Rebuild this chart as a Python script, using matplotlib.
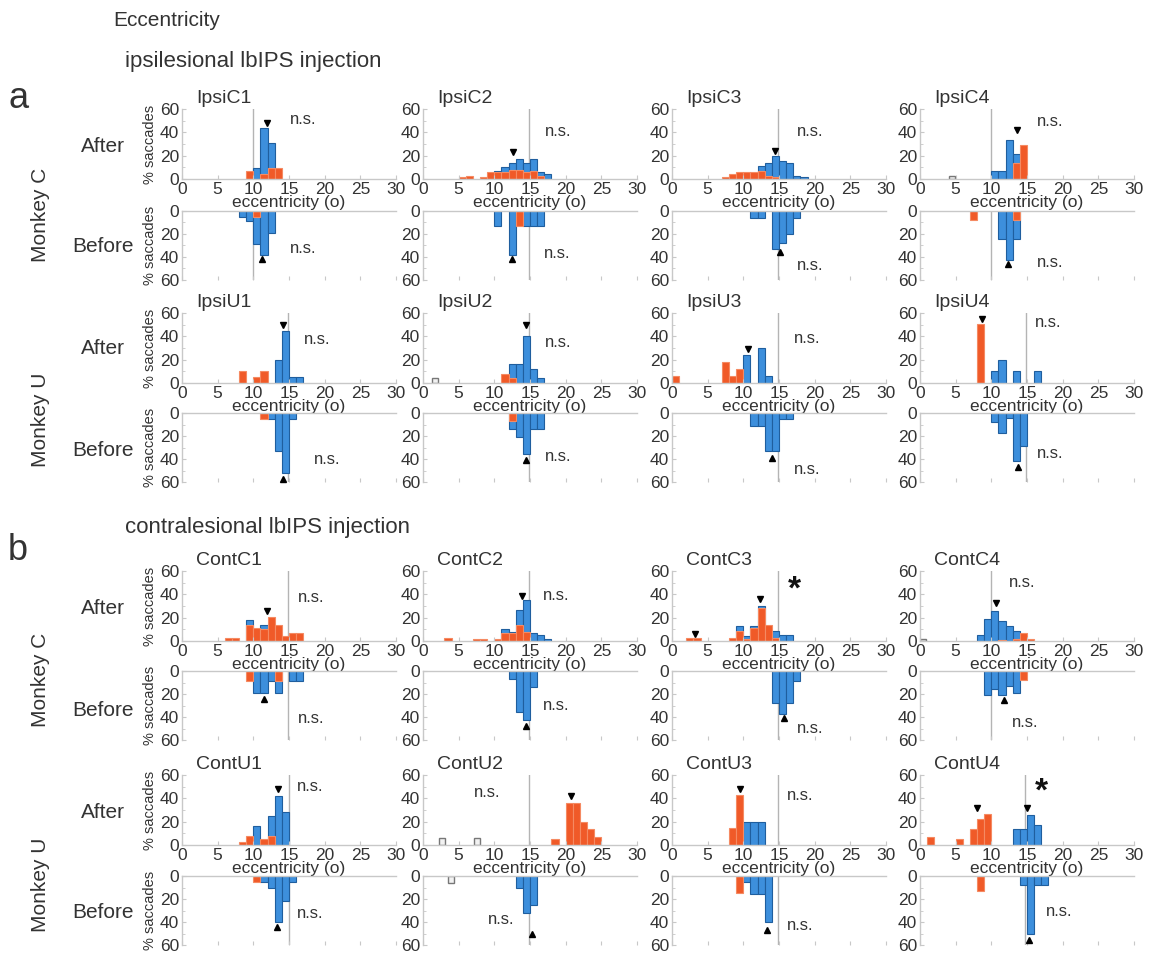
"""
Eccentricity histograms, after vs before lbIPS injection
"""

import matplotlib
matplotlib.use('Agg')
import matplotlib.pyplot as plt

plt.rcParams['font.family'] = ['Liberation Sans', 'DejaVu Sans']

# ---- data: % saccades per 1 deg bin (bin left edge -> value) ----
# b = blue, o = orange, aft = after (top axes), bef = before (bottom axes)
ipsiC1_aft_b = {10: 9, 11: 44, 12: 31}
ipsiC1_aft_o = {9: 7, 11: 4, 12: 9, 13: 9}
ipsiC1_bef_b = {8: 5, 9: 9, 10: 29, 11: 38, 12: 19}
ipsiC1_bef_o = {10: 5}

ipsiC2_aft_b = {10: 7, 11: 10, 12: 14, 13: 17, 14: 14, 15: 17, 16: 6, 17: 4}
ipsiC2_aft_o = {5: 1.5, 6: 3, 8: 2, 9: 6, 10: 6, 11: 6, 12: 8, 13: 8, 14: 6, 15: 7, 16: 3}
ipsiC2_bef_b = {10: 13, 12: 38, 14: 13, 15: 13, 16: 13}
ipsiC2_bef_o = {13: 13}

ipsiC3_aft_b = {12: 11, 13: 14, 14: 20, 15: 15, 16: 14, 17: 3, 18: 1.5}
ipsiC3_aft_o = {7: 1.5, 8: 4, 9: 6, 10: 6, 11: 6, 12: 7, 13: 3, 14: 2}
ipsiC3_bef_b = {11: 6, 12: 6, 14: 33, 15: 28, 16: 20, 17: 6}
ipsiC3_bef_o = {}

ipsiC4_aft_b = {10: 7, 11: 7, 12: 33, 13: 21}
ipsiC4_aft_o = {13: 14, 14: 29}
ipsiC4_bef_b = {11: 24, 12: 43, 13: 24}
ipsiC4_bef_o = {7: 8, 13: 8}

ipsiU1_aft_b = {13: 20, 14: 45, 15: 5, 16: 5}
ipsiU1_aft_o = {8: 10, 10: 5, 11: 10}
ipsiU1_bef_b = {12: 5, 13: 33, 14: 52, 15: 5}
ipsiU1_bef_o = {11: 5}

ipsiU2_aft_b = {12: 16, 13: 16, 14: 40, 15: 12, 16: 4}
ipsiU2_aft_o = {11: 8, 12: 4}
ipsiU2_bef_b = {12: 14, 13: 21, 14: 36, 15: 14, 16: 14}
ipsiU2_bef_o = {12: 7}

ipsiU3_aft_b = {10: 24, 12: 30, 13: 6}
ipsiU3_aft_o = {0: 6, 7: 18, 8: 6, 9: 12}
ipsiU3_bef_b = {11: 11, 12: 11, 13: 33, 14: 33, 15: 5, 16: 5}
ipsiU3_bef_o = {}

ipsiU4_aft_b = {10: 10, 11: 20, 13: 10, 16: 10}
ipsiU4_aft_o = {8: 51}
ipsiU4_bef_b = {10: 8, 11: 17, 12: 4, 13: 42, 14: 29}
ipsiU4_bef_o = {}

contC1_aft_b = {9: 18, 11: 14}
contC1_aft_o = {6: 3, 7: 3, 9: 14, 10: 11, 11: 10, 12: 21, 13: 14, 14: 4, 15: 7, 16: 7}
contC1_bef_b = {10: 19, 11: 19, 12: 9, 13: 19, 15: 9, 16: 9}
contC1_bef_o = {9: 9, 13: 9}

contC2_aft_b = {11: 10, 12: 8, 13: 27, 14: 35, 15: 7, 16: 5, 17: 2}
contC2_aft_o = {3: 3, 7: 1.5, 8: 1.5, 10: 2, 11: 7, 12: 7, 13: 14, 14: 8}
contC2_bef_b = {12: 7, 13: 36, 14: 43, 15: 14}
contC2_bef_o = {}

contC3_aft_b = {9: 13, 10: 4, 11: 13, 12: 30, 14: 9, 15: 5, 16: 5}
contC3_aft_o = {2: 3, 3: 3, 8: 3, 9: 9, 10: 2, 11: 11, 12: 28, 13: 14, 14: 3}
contC3_bef_b = {14: 28, 15: 37, 16: 28, 17: 9}
contC3_bef_o = {}

contC4_aft_b = {8: 5, 9: 19, 10: 26, 11: 17, 12: 13, 13: 9}
contC4_aft_o = {11: 1, 13: 2, 14: 7, 15: 2}
contC4_bef_b = {9: 21, 10: 16, 11: 21, 12: 13, 13: 19}
contC4_bef_o = {14: 8}

contU1_aft_b = {10: 16, 12: 25, 13: 42, 14: 28}
contU1_aft_o = {8: 3, 9: 8, 11: 5, 12: 8}
contU1_bef_b = {11: 5, 12: 10, 13: 40, 14: 22, 15: 5}
contU1_bef_o = {10: 5}

contU2_aft_b = {}
contU2_aft_o = {18: 5, 20: 36, 21: 36, 22: 20, 23: 14, 24: 7}
contU2_bef_b = {13: 10, 14: 32, 15: 25}
contU2_bef_o = {}

contU3_aft_b = {10: 20, 11: 20, 12: 20}
contU3_aft_o = {8: 15, 9: 43}
contU3_bef_b = {10: 5, 11: 16, 12: 16, 13: 40}
contU3_bef_o = {9: 15}

contU4_aft_b = {13: 14, 14: 14, 15: 26, 16: 17}
contU4_aft_o = {1: 7, 5: 5, 7: 14, 8: 22, 9: 27}
contU4_bef_b = {14: 8, 15: 50, 16: 8, 17: 8}
contU4_bef_o = {8: 13}

# hollow (grey outline) bins: (left edge, value)
hollow_aft = {'IpsiC4': [(4, 3)], 'IpsiU2': [(1.3, 4)], 'ContC4': [(0, 2)],
              'ContU2': [(2.2, 6), (7.2, 6)]}
hollow_bef = {'ContU2': [(3.5, 6)]}

# reference line, median markers (x, y)
vlines = [10, 14.8, 14.9, 10, 14.9, 14.9, 14.9, 14.8,
          14.8, 14.9, 14.9, 10, 15, 14.9, 14.9, 14.7]
tri_aft = [[(11.9, 48)], [(12.6, 23)], [(14.4, 24)], [(13.6, 42)],
           [(14.2, 50)], [(14.4, 50)], [(10.6, 29)], [(8.7, 55)],
           [(11.9, 26)], [(13.9, 39)], [(3.2, 6), (12.3, 36)], [(10.6, 33)],
           [(13.4, 48)], [(20.8, 42)], [(9.5, 48)], [(8.0, 32), (15.0, 32)]]
tri_bef = [(11.2, 42), (12.5, 42), (15.1, 36), (12.3, 46),
           (14.1, 57), (14.4, 41), (14.0, 39), (13.8, 47),
           (11.5, 24), (14.4, 48), (15.7, 41), (11.8, 25),
           (13.3, 44), (15.3, 50), (13.3, 47), (15.3, 56)]

names = ['IpsiC1', 'IpsiC2', 'IpsiC3', 'IpsiC4', 'IpsiU1', 'IpsiU2', 'IpsiU3', 'IpsiU4',
         'ContC1', 'ContC2', 'ContC3', 'ContC4', 'ContU1', 'ContU2', 'ContU3', 'ContU4']
aft_blue = [ipsiC1_aft_b, ipsiC2_aft_b, ipsiC3_aft_b, ipsiC4_aft_b, ipsiU1_aft_b, ipsiU2_aft_b,
            ipsiU3_aft_b, ipsiU4_aft_b, contC1_aft_b, contC2_aft_b, contC3_aft_b, contC4_aft_b,
            contU1_aft_b, contU2_aft_b, contU3_aft_b, contU4_aft_b]
aft_orng = [ipsiC1_aft_o, ipsiC2_aft_o, ipsiC3_aft_o, ipsiC4_aft_o, ipsiU1_aft_o, ipsiU2_aft_o,
            ipsiU3_aft_o, ipsiU4_aft_o, contC1_aft_o, contC2_aft_o, contC3_aft_o, contC4_aft_o,
            contU1_aft_o, contU2_aft_o, contU3_aft_o, contU4_aft_o]
bef_blue = [ipsiC1_bef_b, ipsiC2_bef_b, ipsiC3_bef_b, ipsiC4_bef_b, ipsiU1_bef_b, ipsiU2_bef_b,
            ipsiU3_bef_b, ipsiU4_bef_b, contC1_bef_b, contC2_bef_b, contC3_bef_b, contC4_bef_b,
            contU1_bef_b, contU2_bef_b, contU3_bef_b, contU4_bef_b]
bef_orng = [ipsiC1_bef_o, ipsiC2_bef_o, ipsiC3_bef_o, ipsiC4_bef_o, ipsiU1_bef_o, ipsiU2_bef_o,
            ipsiU3_bef_o, ipsiU4_bef_o, contC1_bef_o, contC2_bef_o, contC3_bef_o, contC4_bef_o,
            contU1_bef_o, contU2_bef_o, contU3_bef_o, contU4_bef_o]

# significance label text and its (x, y) position, after / before
sig_aft = [('n.s.', 17, 51), ('n.s.', 19, 41), ('n.s.', 19.4, 41), ('n.s.', 18.3, 49),
           ('n.s.', 19, 37), ('n.s.', 18.9, 35), ('n.s.', 18.9, 38), ('n.s.', 18, 52),
           ('n.s.', 18.1, 37), ('n.s.', 18.6, 39), ('*', 17.1, 44), ('n.s.', 14.3, 50),
           ('n.s.', 18, 50), ('n.s.', 9, 45), ('n.s.', 18, 42), ('*', 17, 45)]
sig_bef = [(17, 33), (18.8, 37), (19.4, 47), (18.3, 45),
           (20.3, 40), (18.9, 38), (18.9, 49), (18.3, 35),
           (18.1, 41), (18.6, 30), (19.4, 50), (14.8, 45),
           (18, 33), (11, 38), (18, 43), (19.5, 31)]

# ---- layout (pixels) ----
W, H = 1151, 965
col_x = [182, 423, 672, 920]
ax_w = 214
aft_rows = [(109, 179), (313, 383), (571, 641), (775, 845)]
bef_rows = [(211, 280), (413, 482), (671, 740), (876, 945)]

BLUE, BLUE_E = '#3d8fdc', '#1f5e9e'
ORNG, ORNG_E = '#f05a28', '#f58a62'
SPINE = '#c8c8c8'
TXT = '#333333'

fig = plt.figure(figsize=(W / 100, H / 100), dpi=100)


def px_axes(x0, top, bottom):
    return fig.add_axes([x0 / W, 1 - bottom / H, ax_w / W, (bottom - top) / H])


def style(ax, top_spine):
    for s in ['left', 'right', 'top', 'bottom']:
        ax.spines[s].set_color(SPINE)
        ax.spines[s].set_linewidth(1)
    ax.spines['right'].set_visible(False)
    ax.spines['top' if not top_spine else 'bottom'].set_visible(False)
    ax.set_xlim(0, 30)
    ax.set_yticks([0, 20, 40, 60])
    ax.set_yticks([10, 30, 50], minor=True)
    ax.tick_params(axis='both', which='both', direction='in', colors=SPINE,
                   labelcolor=TXT, labelsize=12.5, length=3, pad=2)
    ax.tick_params(axis='y', which='minor', length=2)
    ax.patch.set_alpha(0)


def draw_bars(ax, blue, orng, hollow):
    for x, h in hollow:
        ax.bar(x, h, width=0.85, align='edge', facecolor='#f2f2f2', edgecolor='#777777', linewidth=1)
    if blue:
        ax.bar(list(blue.keys()), list(blue.values()), width=1, align='edge',
               color=BLUE, edgecolor=BLUE_E, linewidth=0.8)
    if orng:
        ax.bar(list(orng.keys()), list(orng.values()), width=1, align='edge',
               color=ORNG, edgecolor=ORNG_E, linewidth=0.8)


for i, name in enumerate(names):
    r, c = divmod(i, 4)

    # After (top)
    ax = px_axes(col_x[c], *aft_rows[r])
    style(ax, top_spine=False)
    ax.set_ylim(0, 60)
    ax.set_xticks([0, 5, 10, 15, 20, 25, 30])
    ax.axvline(vlines[i], color='#b4b4b4', linewidth=1, zorder=0)
    draw_bars(ax, aft_blue[i], aft_orng[i], hollow_aft.get(name, []))
    for tx, ty in tri_aft[i]:
        ax.plot(tx, ty, marker='v', color='k', markersize=4, clip_on=False)
    txt, sx, sy = sig_aft[i]
    if txt == '*':
        ax.text(sx, sy, txt, fontsize=24, fontweight='bold', ha='center', va='center', color='#111111')
    else:
        ax.text(sx, sy, txt, fontsize=12, ha='center', va='center', color=TXT)
    ax.text(0.065, 1.03, name, transform=ax.transAxes, fontsize=14, color=TXT, va='bottom')
    ax.set_xlabel('eccentricity (o)', fontsize=12.5, color=TXT, labelpad=-1)
    if c == 0:
        ax.set_ylabel('% saccades', fontsize=10.5, color=TXT, labelpad=2)

    # Before (bottom, inverted)
    ax = px_axes(col_x[c], *bef_rows[r])
    style(ax, top_spine=True)
    ax.set_ylim(60, 0)
    ax.set_xticks([0, 5, 10, 15, 20, 25, 30])
    ax.set_xticklabels([])
    ax.axvline(vlines[i], color='#b4b4b4', linewidth=1, zorder=0)
    draw_bars(ax, bef_blue[i], bef_orng[i], hollow_bef.get(name, []))
    tx, ty = tri_bef[i]
    ax.plot(tx, ty, marker='^', color='k', markersize=4, clip_on=False)
    sx, sy = sig_bef[i]
    ax.text(sx, sy, 'n.s.', fontsize=12, ha='center', va='center', color=TXT)
    if c == 0:
        ax.set_ylabel('% saccades', fontsize=10.5, color=TXT, labelpad=2)


def ftext(x, y, s, **kw):
    fig.text(x / W, 1 - y / H, s, color=TXT, **kw)


ftext(113, 20, 'Eccentricity', fontsize=15, va='center')
ftext(125, 62, 'ipsilesional lbIPS injection', fontsize=16, va='center')
ftext(125, 527, 'contralesional lbIPS injection', fontsize=16, va='center')
ftext(8, 98, 'a', fontsize=26, va='center')
ftext(8, 550, 'b', fontsize=26, va='center')

for y in [146, 348, 609, 812]:
    ftext(103, y, 'After', fontsize=15, ha='center', va='center')
for y in [247, 450, 711, 913]:
    ftext(103, y, 'Before', fontsize=15, ha='center', va='center')
for y, s in [(215, 'Monkey C'), (420, 'Monkey U'), (680, 'Monkey C'), (885, 'Monkey U')]:
    ftext(40, y, s, fontsize=15, ha='center', va='center', rotation=90)

fig.savefig('out.png', dpi=100)
